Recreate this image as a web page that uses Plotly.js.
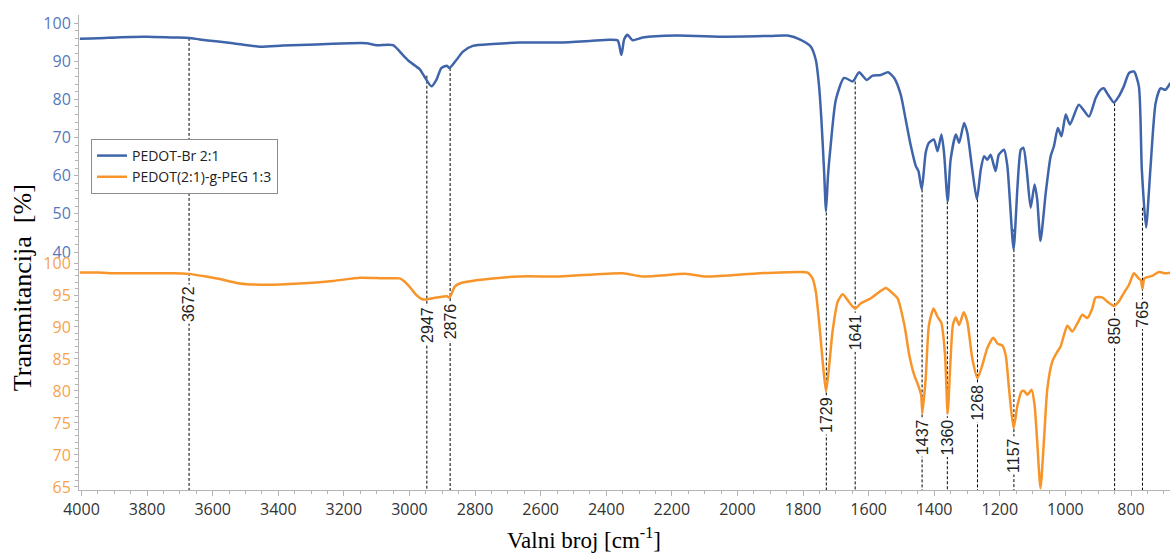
<!DOCTYPE html>
<html>
<head>
<meta charset="utf-8">
<script src="https://cdn.plot.ly/plotly-3.0.1.min.js"></script>
<style>
  html, body { margin: 0; padding: 0; background: #ffffff; }
  #chart { width: 1170px; height: 557px; }
</style>
</head>
<body>
<div id="chart"></div>
<script>
// ---------------- DATA ----------------
const seriesNames = ["PEDOT-Br 2:1", "PEDOT(2:1)-g-PEG 1:3"];

// PEDOT-Br 2:1 (upper axis)
const wavenumberBlue = [
  4005, 3950, 3880, 3800, 3720, 3672, 3640, 3590, 3538, 3456, 3386, 3284, 3182, 3131, 3100, 3050,
  3020, 3000, 2969, 2956, 2933, 2918, 2903, 2886, 2878, 2857, 2837, 2807, 2746, 2664, 2542, 2450,
  2390, 2365, 2354, 2345, 2335, 2320, 2289, 2187, 2034, 1900, 1847, 1807, 1776, 1761, 1751, 1744,
  1736, 1730, 1724, 1716, 1700, 1675, 1649, 1644, 1629, 1606, 1588, 1563, 1541, 1522, 1502, 1487,
  1471, 1456, 1448, 1438, 1426, 1416, 1401, 1390, 1378, 1370, 1359, 1350, 1334, 1324, 1309, 1299,
  1284, 1270, 1258, 1248, 1238, 1228, 1213, 1203, 1187, 1177, 1158, 1146, 1136, 1128, 1118, 1106,
  1094, 1086, 1076, 1060, 1045, 1035, 1023, 1012, 999, 986, 959, 928, 908, 893, 883, 873,
  852, 837, 822, 806, 791, 776, 767, 754, 741, 725, 710, 695, 680
];
const transBlue = [
  95.9, 96.0, 96.3, 96.4, 96.2, 96.1, 95.7, 95.2, 94.7, 93.8, 94.1, 94.4, 94.7, 94.7, 94.2, 94.2,
  91.6, 89.9, 87.9, 86.2, 83.4, 85.1, 88.2, 88.8, 88.2, 90.3, 92.5, 94.0, 94.5, 94.9, 94.9, 95.3,
  95.6, 95.4, 91.6, 95.8, 96.9, 95.5, 96.2, 96.7, 96.4, 96.6, 96.7, 95.6, 93.8, 90.3, 83.4, 74.7,
  61.6, 50.7, 59.9, 67.7, 79.9, 85.6, 84.7, 85.1, 87.1, 85.1, 86.2, 86.4, 87.1, 85.6, 81.2, 74.7,
  67.7, 62.5, 61.2, 56.4, 66.0, 68.6, 69.5, 66.4, 70.8, 66.0, 53.3, 64.2, 70.8, 68.6, 73.8, 71.2,
  61.6, 53.8, 61.6, 65.1, 64.2, 65.5, 61.2, 65.5, 66.8, 62.5, 40.7, 57.3, 66.8, 67.3, 61.6, 51.6,
  57.7, 53.8, 42.9, 55.5, 65.1, 67.7, 72.5, 70.3, 76.0, 73.4, 78.6, 75.5, 80.3, 82.5, 82.9, 81.6,
  79.2, 80.8, 83.4, 86.9, 87.3, 83.4, 61.6, 46.4, 61.6, 79.0, 82.9, 82.5, 84.3
];

// PEDOT(2:1)-g-PEG 1:3 (lower axis)
const wavenumberOrange = [
  4005, 3950, 3891, 3800, 3720, 3675, 3620, 3578, 3517, 3437, 3335, 3233, 3151, 3080, 3030, 3020,
  3000, 2979, 2959, 2918, 2886, 2878, 2862, 2847, 2796, 2664, 2542, 2350, 2289, 2156, 2095, 1933,
  1807, 1786, 1771, 1761, 1751, 1740, 1730, 1720, 1710, 1694, 1679, 1664, 1649, 1640, 1624, 1593,
  1567, 1547, 1532, 1512, 1491, 1476, 1461, 1451, 1440, 1436, 1426, 1416, 1402, 1390, 1378, 1367,
  1359, 1351, 1343, 1334, 1324, 1310, 1299, 1284, 1268, 1253, 1238, 1220, 1207, 1192, 1182, 1172,
  1158, 1146, 1134, 1126, 1116, 1103, 1094, 1086, 1076, 1065, 1055, 1040, 1025, 1015, 1004, 994,
  979, 963, 948, 933, 918, 908, 887, 873, 851, 837, 822, 806, 791, 777, 770, 765,
  759, 735, 715, 695, 680
];
const transOrange = [
  98.5, 98.5, 98.4, 98.4, 98.4, 98.3, 97.9, 97.5, 96.8, 96.6, 96.8, 97.2, 97.7, 97.6, 97.6, 97.3,
  96.3, 95.0, 94.3, 94.6, 94.8, 94.6, 96.3, 96.8, 97.3, 97.9, 97.9, 98.4, 97.9, 98.3, 97.9, 98.4,
  98.6, 98.5, 97.6, 95.5, 90.8, 84.6, 79.9, 84.1, 89.3, 94.0, 95.1, 94.2, 93.2, 92.9, 93.7, 94.5,
  95.5, 96.1, 95.5, 94.5, 90.3, 85.6, 82.5, 81.2, 79.4, 76.5, 82.0, 90.3, 92.9, 91.6, 90.6, 85.6,
  76.5, 84.1, 90.3, 91.5, 90.3, 92.3, 90.8, 85.1, 82.0, 84.1, 86.7, 88.3, 87.4, 87.1, 85.6, 80.4,
  74.2, 77.8, 79.9, 80.0, 79.4, 80.2, 77.8, 72.1, 64.8, 72.6, 80.4, 84.6, 86.1, 86.9, 88.8, 90.2,
  89.3, 90.6, 91.9, 91.4, 92.9, 94.6, 94.6, 94.0, 93.3, 94.0, 95.3, 96.6, 98.4, 97.6, 97.3, 96.0,
  97.6, 98.0, 98.6, 98.4, 98.5
];

// Marked peaks
const peakWavenumbers = [3672, 2947, 2876, 1729, 1641, 1437, 1360, 1268, 1157, 850, 765];
const peakLineTopT    = [96.1, 86.2, 88.2, 55.6, 84.7, 56.4, 53.3, 53.8, 46.0, 79.0, 51.6]; // on upper axis
const peakLabelT      = [93.6, 90.3, 90.9, 76.3, 89.2, 72.8, 72.8, 78.1, 70.0, 89.4, 92.0]; // on lower axis

// Tick labels
const xTicks = [4000, 3800, 3600, 3400, 3200, 3000, 2800, 2600, 2400, 2200, 2000, 1800, 1600, 1400, 1200, 1000, 800];
const yTopTicks = [40, 50, 60, 70, 80, 90, 100];
const yBottomTicks = [65, 70, 75, 80, 85, 90, 95, 100];

// ---------------- STYLE / LAYOUT ----------------
const blueLine = "#3f64aa", orangeLine = "#f7952a";
const blueTick = "#5479be", orangeTick = "#f7a24f";
const axisGray = "#b4b4b4";

const xRange = [4007.6, 681.1];
const yTopRange = [-22.36, 102.1];
const yBottomRange = [64.53, 138.75];

function seq(a, b, step) { const r = []; for (let v = a; v <= b + 1e-9; v += step) r.push(v); return r; }

const traces = [
  { x: wavenumberBlue, y: transBlue, type: "scatter", mode: "lines", name: seriesNames[0],
    xaxis: "x", yaxis: "y", line: { color: blueLine, width: 2.5, shape: "spline", smoothing: 0.6 } },
  { x: wavenumberOrange, y: transOrange, type: "scatter", mode: "lines", name: seriesNames[1],
    xaxis: "x", yaxis: "y2", line: { color: orangeLine, width: 2.5, shape: "spline", smoothing: 0.6 } }
];

const shapes = peakWavenumbers.map((w, i) => ({
  type: "line", xref: "x", yref: "y", x0: w, x1: w, y0: peakLineTopT[i], y1: yTopRange[0],
  line: { color: "#000000", width: 1, dash: "3px,2px" }, layer: "below"
}));

const annotations = peakWavenumbers.map((w, i) => ({
  x: w, y: peakLabelT[i], xref: "x", yref: "y2", text: String(w), textangle: -90,
  showarrow: false, bgcolor: "#ffffff", borderpad: 1,
  font: { family: "Liberation Sans, Arial, sans-serif", size: 16, color: "#222222" }
}));

annotations.push({
  xref: "paper", yref: "paper", x: -0.0522, y: 0.425, xanchor: "center", yanchor: "middle",
  text: "Transmitancija\u00a0 [%]", textangle: -90, showarrow: false,
  font: { family: "Liberation Serif, Times New Roman, serif", size: 26, color: "#000000" }
});
annotations.push({
  xref: "paper", yref: "paper", x: 0.4629, y: -0.103, xanchor: "center", yanchor: "middle",
  text: "Valni broj [cm<sup>-1</sup>]", showarrow: false,
  font: { family: "Liberation Serif, Times New Roman, serif", size: 23, color: "#000000" }
});

const tickFont = { family: "Open Sans, sans-serif", size: 16 };

const layout = {
  width: 1170, height: 557,
  margin: { l: 79, r: 0, t: 15, b: 67 },
  paper_bgcolor: "#ffffff", plot_bgcolor: "#ffffff",
  showlegend: true,
  legend: {
    x: 0.011, y: 0.739, xanchor: "left", yanchor: "top",
    bgcolor: "#ffffff", bordercolor: "#8c8c8c", borderwidth: 1,
    font: { family: "Open Sans, sans-serif", size: 14, color: "#222222" },
    tracegroupgap: 0
  },
  xaxis: {
    range: xRange, showgrid: false, zeroline: false,
    showline: true, linecolor: axisGray, linewidth: 1,
    tickmode: "array", tickvals: xTicks, ticktext: xTicks.map(String),
    ticks: "outside", ticklen: 5, tickcolor: axisGray,
    tickfont: Object.assign({ color: "#333333" }, tickFont),
    minor: { tickmode: "array", tickvals: seq(700, 4000, 50), ticks: "outside", ticklen: 3, tickcolor: axisGray, showgrid: false }
  },
  yaxis: {
    range: yTopRange, showgrid: false, zeroline: false,
    showline: true, linecolor: axisGray, linewidth: 1,
    tickmode: "array", tickvals: yTopTicks, ticktext: yTopTicks.map(String),
    ticks: "outside", ticklen: 4, tickcolor: axisGray,
    tickfont: Object.assign({ color: blueTick }, tickFont),
    minor: { tickmode: "array", tickvals: seq(40, 100, 2), ticks: "outside", ticklen: 3, tickcolor: axisGray, showgrid: false }
  },
  yaxis2: {
    range: yBottomRange, overlaying: "y", side: "left", anchor: "x",
    showgrid: false, zeroline: false,
    showline: true, linecolor: axisGray, linewidth: 1,
    tickmode: "array", tickvals: yBottomTicks, ticktext: yBottomTicks.map(String),
    ticks: "outside", ticklen: 4, tickcolor: axisGray,
    tickfont: Object.assign({ color: orangeTick }, tickFont),
    minor: { tickmode: "array", tickvals: seq(65, 100, 1), ticks: "outside", ticklen: 3, tickcolor: axisGray, showgrid: false }
  },
  shapes: shapes,
  annotations: annotations
};

Plotly.newPlot("chart", traces, layout, { displayModeBar: false, staticPlot: true });
</script>
</body>
</html>
